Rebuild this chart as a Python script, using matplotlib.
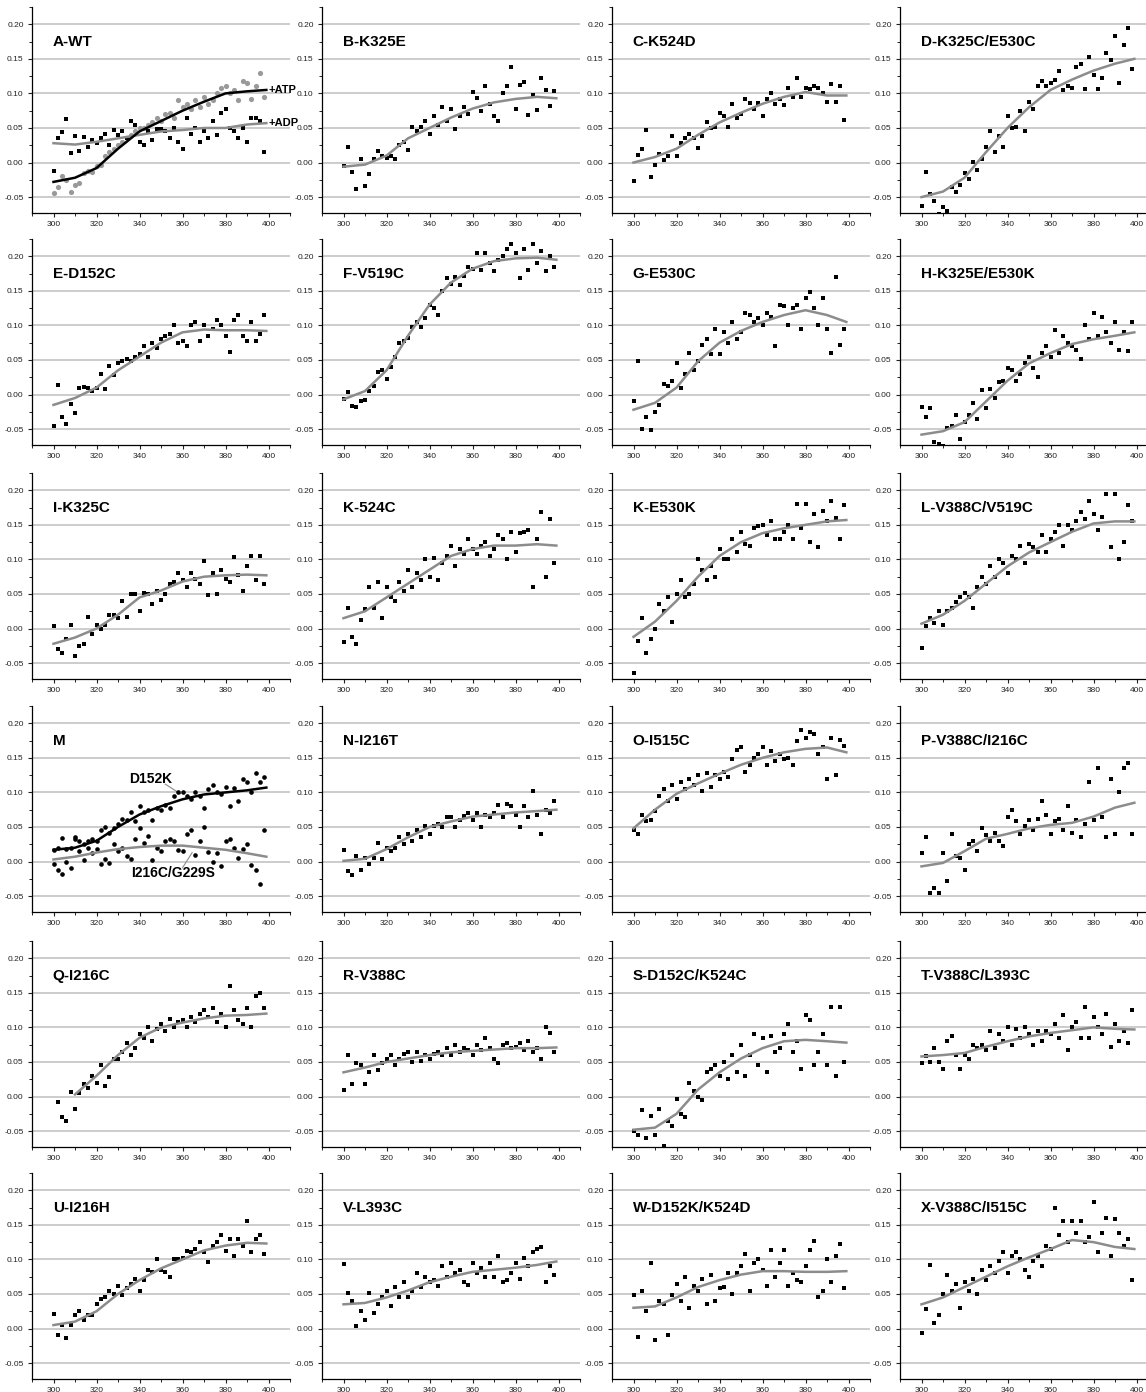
import numpy as np
import matplotlib
matplotlib.use("Agg")
import matplotlib.pyplot as plt
from matplotlib.ticker import MultipleLocator, FormatStrFormatter

# wavelength grid of the scatter points and of the smoothed curves
wl = np.arange(300, 400, 2)
wl_fit = [300, 310, 320, 330, 340, 350, 360, 370, 380, 390, 399]

# ---- A-WT
wt_atp = [-0.044, -0.035, -0.02, -0.025, -0.043, -0.033, -0.03, -0.015, -0.012, -0.014,
          -0.005, -0.003, 0.01, 0.015, 0.02, 0.025, 0.03, 0.035, 0.04, 0.045,
          0.05, 0.05, 0.055, 0.058, 0.065, 0.06, 0.07, 0.072, 0.065, 0.09,
          0.08, 0.085, 0.078, 0.09, 0.08, 0.095, 0.085, 0.09, 0.1, 0.108,
          0.11, 0.1, 0.105, 0.09, 0.118, 0.115, 0.092, 0.11, 0.13, 0.095]
wt_atp_fit = [-0.028, -0.022, -0.008, 0.02, 0.045, 0.06, 0.075, 0.088, 0.1, 0.103, 0.105]
wt_adp = [-0.012, 0.036, 0.044, 0.063, 0.014, 0.039, 0.016, 0.037, 0.022, 0.032,
          0.028, 0.036, 0.042, 0.025, 0.047, 0.04, 0.046, 0.035, 0.06, 0.055,
          0.03, 0.025, 0.045, 0.032, 0.048, 0.048, 0.045, 0.035, 0.05, 0.03,
          0.02, 0.065, 0.042, 0.05, 0.03, 0.045, 0.035, 0.06, 0.04, 0.072,
          0.078, 0.05, 0.045, 0.035, 0.05, 0.03, 0.065, 0.065, 0.06, 0.015]
wt_adp_fit = [0.028, 0.026, 0.03, 0.035, 0.04, 0.045, 0.047, 0.05, 0.05, 0.055, 0.057]

# ---- M
m_d152k = [0.017, 0.02, 0.034, 0.018, 0.02, 0.035, 0.03, 0.025, 0.03, 0.032,
           0.03, 0.045, 0.05, 0.042, 0.048, 0.055, 0.062, 0.06, 0.072, 0.058,
           0.08, 0.072, 0.075, 0.06, 0.078, 0.075, 0.082, 0.078, 0.095, 0.1,
           0.1, 0.095, 0.09, 0.1, 0.095, 0.078, 0.105, 0.11, 0.1, 0.098,
           0.108, 0.08, 0.106, 0.088, 0.12, 0.115, 0.1, 0.128, 0.115, 0.122]
m_d152k_fit = [0.017, 0.02, 0.03, 0.05, 0.068, 0.08, 0.09, 0.097, 0.1, 0.103, 0.107]
m_i216c = [-0.004, -0.012, -0.018, 0.0, -0.01, 0.033, 0.015, 0.002, 0.02, 0.013,
           0.018, -0.004, 0.004, -0.002, 0.025, 0.015, 0.02, 0.008, 0.003, 0.033,
           0.048, 0.027, 0.037, 0.002, 0.02, 0.015, 0.03, 0.032, 0.03, 0.016,
           0.015, 0.04, 0.045, 0.01, 0.03, 0.05, 0.014, 0.0, 0.012, -0.006,
           0.03, 0.033, 0.02, 0.005, 0.018, 0.025, -0.005, -0.012, -0.032, 0.045]
m_i216c_fit = [0.003, 0.007, 0.013, 0.018, 0.021, 0.023, 0.023, 0.02, 0.017, 0.012, 0.007]

# ---- single-series panels: points and smoothed curve
points = {
    "B-K325E": [-0.005, 0.022, -0.014, -0.038, 0.005, -0.034, -0.016, 0.005, 0.017, 0.01,
                0.006, 0.01, 0.005, 0.025, 0.03, 0.018, 0.052, 0.045, 0.052, 0.06,
                0.042, 0.068, 0.055, 0.08, 0.06, 0.078, 0.048, 0.068, 0.08, 0.07,
                0.102, 0.093, 0.075, 0.11, 0.085, 0.068, 0.06, 0.1, 0.11, 0.138,
                0.078, 0.112, 0.116, 0.069, 0.097, 0.076, 0.122, 0.105, 0.082, 0.103],
    "C-K524D": [-0.026, 0.011, 0.019, 0.047, -0.021, -0.003, 0.013, 0.003, 0.01, 0.039,
                0.009, 0.028, 0.036, 0.041, 0.035, 0.021, 0.038, 0.059, 0.05, 0.052,
                0.072, 0.068, 0.052, 0.085, 0.065, 0.07, 0.092, 0.086, 0.078, 0.086,
                0.068, 0.092, 0.1, 0.085, 0.092, 0.083, 0.108, 0.095, 0.122, 0.095,
                0.108, 0.106, 0.11, 0.108, 0.1, 0.087, 0.113, 0.088, 0.11, 0.062],
    "D-K325C/E530C": [-0.063, -0.013, -0.045, -0.056, -0.075, -0.065, -0.07, -0.035, -0.043, -0.032,
                      -0.015, -0.024, 0.001, -0.011, 0.005, 0.022, 0.046, 0.015, 0.038, 0.022,
                      0.068, 0.05, 0.052, 0.075, 0.046, 0.088, 0.078, 0.11, 0.118, 0.11,
                      0.115, 0.12, 0.133, 0.105, 0.11, 0.108, 0.138, 0.143, 0.107, 0.152,
                      0.127, 0.106, 0.122, 0.158, 0.148, 0.183, 0.115, 0.17, 0.195, 0.135],
    "E-D152C": [-0.046, 0.014, -0.033, -0.042, -0.014, -0.027, 0.01, 0.011, 0.01, 0.005,
                0.01, 0.03, 0.008, 0.042, 0.028, 0.045, 0.048, 0.052, 0.048, 0.055,
                0.058, 0.07, 0.055, 0.075, 0.068, 0.08, 0.085, 0.088, 0.1, 0.075,
                0.078, 0.07, 0.1, 0.105, 0.078, 0.1, 0.085, 0.095, 0.108, 0.1,
                0.085, 0.062, 0.108, 0.115, 0.085, 0.078, 0.105, 0.078, 0.088, 0.115],
    "F-V519C": [-0.006, 0.003, -0.016, -0.018, -0.01, -0.008, 0.005, 0.012, 0.032, 0.035,
                0.022, 0.04, 0.055, 0.075, 0.078, 0.082, 0.098, 0.105, 0.098, 0.11,
                0.13, 0.125, 0.115, 0.15, 0.168, 0.16, 0.17, 0.158, 0.172, 0.185,
                0.182, 0.205, 0.18, 0.205, 0.19, 0.178, 0.195, 0.2, 0.21, 0.218,
                0.205, 0.168, 0.21, 0.18, 0.218, 0.19, 0.208, 0.178, 0.2, 0.185],
    "G-E530C": [-0.01, 0.048, -0.05, -0.032, -0.052, -0.025, -0.015, 0.015, 0.013, 0.02,
                0.045, 0.01, 0.03, 0.06, 0.036, 0.048, 0.072, 0.08, 0.058, 0.095,
                0.058, 0.09, 0.075, 0.105, 0.08, 0.09, 0.118, 0.115, 0.105, 0.11,
                0.1, 0.118, 0.112, 0.07, 0.13, 0.128, 0.1, 0.125, 0.13, 0.095,
                0.14, 0.148, 0.125, 0.1, 0.14, 0.095, 0.06, 0.17, 0.072, 0.095],
    "H-K325E/E530K": [-0.018, -0.032, -0.02, -0.068, -0.072, -0.075, -0.048, -0.045, -0.03, -0.065,
                      -0.04, -0.03, -0.012, -0.035, 0.006, -0.02, 0.008, -0.005, 0.018, 0.02,
                      0.038, 0.035, 0.02, 0.03, 0.045, 0.055, 0.038, 0.025, 0.06, 0.07,
                      0.055, 0.093, 0.06, 0.085, 0.075, 0.07, 0.065, 0.052, 0.1, 0.08,
                      0.118, 0.085, 0.112, 0.09, 0.075, 0.105, 0.065, 0.09, 0.063, 0.105],
    "I-K325C": [0.003, -0.03, -0.035, -0.015, 0.005, -0.04, -0.025, -0.022, 0.016, -0.008,
                0.005, 0.0, 0.005, 0.02, 0.02, 0.015, 0.04, 0.017, 0.05, 0.05,
                0.025, 0.052, 0.05, 0.035, 0.055, 0.042, 0.05, 0.065, 0.068, 0.08,
                0.07, 0.06, 0.08, 0.072, 0.065, 0.098, 0.048, 0.08, 0.05, 0.085,
                0.072, 0.068, 0.103, 0.077, 0.055, 0.09, 0.105, 0.07, 0.105, 0.065],
    "K-524C": [-0.02, 0.03, -0.012, -0.022, 0.012, 0.028, 0.06, 0.03, 0.068, 0.015,
               0.06, 0.045, 0.04, 0.068, 0.055, 0.085, 0.06, 0.08, 0.07, 0.1,
               0.075, 0.102, 0.07, 0.095, 0.105, 0.12, 0.09, 0.115, 0.108, 0.13,
               0.115, 0.108, 0.12, 0.125, 0.105, 0.115, 0.135, 0.13, 0.1, 0.14,
               0.11, 0.138, 0.14, 0.143, 0.06, 0.13, 0.168, 0.075, 0.158, 0.095],
    "K-E530K": [-0.065, -0.018, 0.015, -0.035, -0.015, 0.0, 0.035, 0.025, 0.045, 0.01,
                0.05, 0.07, 0.045, 0.05, 0.065, 0.1, 0.085, 0.07, 0.09, 0.075,
                0.115, 0.1, 0.1, 0.13, 0.11, 0.14, 0.122, 0.12, 0.145, 0.148,
                0.15, 0.135, 0.155, 0.13, 0.13, 0.14, 0.15, 0.13, 0.18, 0.145,
                0.18, 0.125, 0.165, 0.118, 0.17, 0.155, 0.185, 0.16, 0.13, 0.178],
    "L-V388C/V519C": [-0.028, 0.003, 0.015, 0.008, 0.025, 0.005, 0.025, 0.03, 0.038, 0.045,
                      0.052, 0.045, 0.03, 0.06, 0.075, 0.065, 0.09, 0.075, 0.1, 0.095,
                      0.08, 0.105, 0.1, 0.12, 0.095, 0.122, 0.118, 0.11, 0.135, 0.11,
                      0.13, 0.14, 0.15, 0.12, 0.15, 0.142, 0.155, 0.168, 0.158, 0.185,
                      0.165, 0.142, 0.162, 0.195, 0.118, 0.195, 0.1, 0.125, 0.178, 0.155],
    "N-I216T": [0.017, -0.014, -0.019, 0.008, -0.012, 0.005, -0.004, 0.005, 0.027, 0.003,
                0.02, 0.015, 0.02, 0.036, 0.025, 0.04, 0.03, 0.045, 0.035, 0.052,
                0.04, 0.052, 0.055, 0.05, 0.065, 0.065, 0.05, 0.06, 0.066, 0.07,
                0.06, 0.07, 0.05, 0.068, 0.065, 0.07, 0.082, 0.065, 0.083, 0.08,
                0.068, 0.05, 0.08, 0.065, 0.102, 0.068, 0.04, 0.075, 0.07, 0.087],
    "O-I515C": [0.045, 0.04, 0.068, 0.058, 0.06, 0.073, 0.095, 0.105, 0.088, 0.11,
                0.09, 0.115, 0.105, 0.12, 0.11, 0.125, 0.102, 0.128, 0.108, 0.125,
                0.12, 0.13, 0.122, 0.148, 0.162, 0.165, 0.13, 0.14, 0.15, 0.155,
                0.165, 0.14, 0.16, 0.145, 0.155, 0.148, 0.15, 0.14, 0.175, 0.19,
                0.178, 0.188, 0.185, 0.155, 0.165, 0.12, 0.178, 0.125, 0.176, 0.167],
    "P-V388C/I216C": [0.013, 0.035, -0.045, -0.038, -0.045, 0.013, -0.028, 0.04, 0.008, 0.005,
                      -0.012, 0.025, 0.03, 0.015, 0.048, 0.038, 0.03, 0.042, 0.03, 0.022,
                      0.065, 0.075, 0.058, 0.04, 0.052, 0.06, 0.045, 0.062, 0.087, 0.068,
                      0.04, 0.058, 0.062, 0.045, 0.08, 0.042, 0.06, 0.035, 0.055, 0.115,
                      0.06, 0.135, 0.065, 0.035, 0.12, 0.04, 0.1, 0.135, 0.142, 0.04],
    "Q-I216C": [np.nan, -0.008, -0.03, -0.036, 0.006, -0.018, 0.005, 0.018, 0.012, 0.03,
                0.02, 0.045, 0.015, 0.028, 0.055, 0.055, 0.065, 0.078, 0.06, 0.07,
                0.09, 0.085, 0.1, 0.08, 0.098, 0.105, 0.095, 0.112, 0.1, 0.108,
                0.11, 0.1, 0.115, 0.108, 0.12, 0.125, 0.115, 0.128, 0.108, 0.12,
                0.1, 0.16, 0.125, 0.11, 0.105, 0.128, 0.1, 0.145, 0.15, 0.128],
    "R-V388C": [0.01, 0.06, 0.018, 0.048, 0.045, 0.018, 0.035, 0.06, 0.038, 0.048,
                0.055, 0.06, 0.045, 0.055, 0.062, 0.065, 0.05, 0.065, 0.052, 0.06,
                0.055, 0.062, 0.065, 0.06, 0.07, 0.06, 0.075, 0.065, 0.07, 0.068,
                0.06, 0.075, 0.068, 0.085, 0.07, 0.055, 0.048, 0.075, 0.078, 0.07,
                0.072, 0.078, 0.068, 0.08, 0.065, 0.07, 0.055, 0.1, 0.092, 0.065],
    "S-D152C/K524C": [-0.05, -0.055, -0.02, -0.06, -0.028, -0.055, -0.018, -0.072, -0.035, -0.042,
                      -0.003, -0.025, -0.03, 0.02, 0.008, 0.0, -0.005, 0.035, 0.04, 0.045,
                      0.03, 0.05, 0.025, 0.06, 0.035, 0.075, 0.03, 0.06, 0.09, 0.045,
                      0.085, 0.035, 0.088, 0.065, 0.07, 0.09, 0.105, 0.065, 0.08, 0.04,
                      0.118, 0.11, 0.045, 0.065, 0.09, 0.045, 0.13, 0.03, 0.13, 0.05],
    "T-V388C/L393C": [0.048, 0.058, 0.05, 0.07, 0.05, 0.04, 0.08, 0.088, 0.06, 0.04,
                      0.06, 0.055, 0.075, 0.07, 0.075, 0.068, 0.095, 0.07, 0.09, 0.08,
                      0.1, 0.075, 0.098, 0.085, 0.1, 0.09, 0.075, 0.095, 0.08, 0.095,
                      0.09, 0.105, 0.085, 0.118, 0.068, 0.1, 0.108, 0.085, 0.13, 0.085,
                      0.115, 0.1, 0.09, 0.12, 0.072, 0.105, 0.08, 0.095, 0.078, 0.125],
    "U-I216H": [0.021, -0.01, 0.005, -0.013, 0.005, 0.019, 0.025, 0.013, 0.02, 0.02,
                0.035, 0.043, 0.045, 0.055, 0.05, 0.062, 0.048, 0.058, 0.065, 0.072,
                0.054, 0.07, 0.085, 0.082, 0.1, 0.085, 0.082, 0.075, 0.1, 0.1,
                0.102, 0.112, 0.11, 0.115, 0.125, 0.11, 0.096, 0.12, 0.125, 0.135,
                0.112, 0.13, 0.105, 0.13, 0.12, 0.156, 0.11, 0.13, 0.135, 0.108],
    "V-L393C": [0.093, 0.052, 0.04, 0.003, 0.025, 0.012, 0.052, 0.022, 0.035, 0.045,
                0.055, 0.032, 0.06, 0.045, 0.068, 0.045, 0.055, 0.08, 0.06, 0.075,
                0.068, 0.07, 0.062, 0.09, 0.075, 0.095, 0.08, 0.085, 0.068, 0.063,
                0.095, 0.08, 0.088, 0.075, 0.095, 0.075, 0.105, 0.068, 0.07, 0.08,
                0.095, 0.072, 0.102, 0.09, 0.11, 0.115, 0.118, 0.068, 0.09, 0.078],
    "W-D152K/K524D": [0.048, -0.012, 0.054, 0.025, 0.095, -0.016, 0.04, 0.035, -0.01, 0.048,
                      0.065, 0.04, 0.075, 0.03, 0.062, 0.055, 0.072, 0.035, 0.078, 0.04,
                      0.058, 0.06, 0.08, 0.05, 0.08, 0.09, 0.108, 0.055, 0.095, 0.1,
                      0.085, 0.062, 0.113, 0.075, 0.095, 0.113, 0.062, 0.08, 0.07, 0.068,
                      0.09, 0.113, 0.127, 0.045, 0.055, 0.1, 0.068, 0.105, 0.122, 0.058],
    "X-V388C/I515C": [-0.006, 0.028, 0.092, 0.008, 0.02, 0.05, 0.078, 0.055, 0.065, 0.03,
                      0.068, 0.055, 0.072, 0.05, 0.085, 0.07, 0.09, 0.08, 0.098, 0.11,
                      0.08, 0.105, 0.11, 0.1, 0.085, 0.075, 0.098, 0.105, 0.09, 0.12,
                      0.115, 0.175, 0.135, 0.155, 0.125, 0.155, 0.138, 0.155, 0.125, 0.133,
                      0.183, 0.11, 0.138, 0.16, 0.105, 0.158, 0.138, 0.12, 0.13, 0.07],
}

curves = {
    "B-K325E": [-0.006, -0.003, 0.01, 0.035, 0.05, 0.065, 0.078, 0.087, 0.092, 0.095, 0.093],
    "C-K524D": [0.0, 0.008, 0.02, 0.04, 0.058, 0.072, 0.085, 0.095, 0.102, 0.097, 0.097],
    "D-K325C/E530C": [-0.05, -0.042, -0.022, 0.015, 0.05, 0.08, 0.105, 0.12, 0.133, 0.143, 0.15],
    "E-D152C": [-0.015, -0.005, 0.01, 0.035, 0.055, 0.075, 0.09, 0.094, 0.093, 0.093, 0.092],
    "F-V519C": [-0.007, 0.005, 0.035, 0.085, 0.13, 0.162, 0.182, 0.193, 0.197, 0.198, 0.195],
    "G-E530C": [-0.022, -0.012, 0.01, 0.048, 0.075, 0.092, 0.105, 0.115, 0.122, 0.115, 0.105],
    "H-K325E/E530K": [-0.058, -0.053, -0.04, -0.01, 0.02, 0.045, 0.06, 0.073, 0.08, 0.085, 0.09],
    "I-K325C": [-0.022, -0.013, 0.0, 0.02, 0.045, 0.055, 0.068, 0.075, 0.077, 0.078, 0.077],
    "K-524C": [0.015, 0.025, 0.045, 0.065, 0.085, 0.105, 0.115, 0.12, 0.12, 0.122, 0.12],
    "K-E530K": [-0.012, 0.01, 0.04, 0.075, 0.105, 0.125, 0.138, 0.145, 0.15, 0.155, 0.157],
    "L-V388C/V519C": [0.007, 0.02, 0.04, 0.065, 0.09, 0.11, 0.125, 0.14, 0.152, 0.155, 0.155],
    "N-I216T": [0.001, 0.004, 0.018, 0.035, 0.05, 0.058, 0.065, 0.068, 0.071, 0.073, 0.075],
    "O-I515C": [0.048, 0.075, 0.098, 0.113, 0.127, 0.14, 0.15, 0.158, 0.163, 0.165, 0.158],
    "P-V388C/I216C": [-0.007, -0.002, 0.015, 0.033, 0.04, 0.048, 0.053, 0.056, 0.065, 0.078, 0.085],
    "Q-I216C": [np.nan, 0.003, 0.03, 0.06, 0.085, 0.1, 0.107, 0.113, 0.117, 0.118, 0.12],
    "R-V388C": [0.035, 0.042, 0.05, 0.055, 0.06, 0.064, 0.066, 0.068, 0.07, 0.07, 0.071],
    "S-D152C/K524C": [-0.048, -0.045, -0.025, 0.01, 0.035, 0.055, 0.07, 0.08, 0.082, 0.08, 0.078],
    "T-V388C/L393C": [0.058, 0.06, 0.063, 0.072, 0.08, 0.087, 0.092, 0.096, 0.1, 0.098, 0.097],
    "U-I216H": [0.005, 0.01, 0.025, 0.05, 0.07, 0.087, 0.1, 0.113, 0.12, 0.124, 0.123],
    "V-L393C": [0.035, 0.037, 0.045, 0.055, 0.067, 0.075, 0.082, 0.085, 0.088, 0.092, 0.097],
    "W-D152K/K524D": [0.03, 0.032, 0.045, 0.06, 0.07, 0.078, 0.083, 0.083, 0.082, 0.082, 0.083],
    "X-V388C/I515C": [0.035, 0.045, 0.06, 0.075, 0.09, 0.103, 0.115, 0.128, 0.125, 0.118, 0.115],
}

# grid order of the 24 panels
layout = ["A-WT", "B-K325E", "C-K524D", "D-K325C/E530C",
          "E-D152C", "F-V519C", "G-E530C", "H-K325E/E530K",
          "I-K325C", "K-524C", "K-E530K", "L-V388C/V519C",
          "M", "N-I216T", "O-I515C", "P-V388C/I216C",
          "Q-I216C", "R-V388C", "S-D152C/K524C", "T-V388C/L393C",
          "U-I216H", "V-L393C", "W-D152K/K524D", "X-V388C/I515C"]

plt.rcParams['font.family'] = ['Liberation Sans Narrow', 'Liberation Sans', 'DejaVu Sans']

W, H = 1146, 1392
fig = plt.figure(figsize=(W / 100, H / 100), dpi=100)

lefts = [32, 322, 612, 900]
bottoms = [213, 445, 679, 912, 1147, 1379]
aw, ah = 258, 206

GRAY = '#8c8c8c'


def style(ax):
    ax.set_xlim(290, 410)
    ax.set_ylim(-0.073, 0.225)
    for s in ['top', 'right']:
        ax.spines[s].set_visible(False)
    for s in ['left', 'bottom']:
        ax.spines[s].set_linewidth(0.9)
    ax.xaxis.set_major_locator(MultipleLocator(20))
    ax.xaxis.set_minor_locator(MultipleLocator(10))
    ax.yaxis.set_major_locator(MultipleLocator(0.05))
    ax.yaxis.set_minor_locator(MultipleLocator(0.025))
    ax.yaxis.set_major_formatter(FormatStrFormatter('%.2f'))
    ax.tick_params(which='major', direction='out', length=3, width=0.8,
                   labelsize=6, colors='#222222', pad=3)
    ax.tick_params(which='minor', direction='out', length=2, width=0.6)
    ax.grid(axis='y', which='major', color='#c4c4c4', lw=1.2)
    ax.set_axisbelow(True)


for k, name in enumerate(layout):
    r, c = divmod(k, 4)
    ax = fig.add_axes([lefts[c] / W, 1 - bottoms[r] / H, aw / W, ah / H])
    style(ax)
    if name == "A-WT":
        ax.scatter(wl, wt_atp, s=14, marker='o', color='#999999', lw=0, zorder=3)
        ax.scatter(wl, wt_adp, s=9, marker='s', color='black', lw=0, zorder=3)
        ax.plot(wl_fit, wt_adp_fit, color=GRAY, lw=1.8, zorder=4)
        ax.plot(wl_fit, wt_atp_fit, color='black', lw=1.8, zorder=4)
        ax.text(400, wt_atp_fit[-1], '+ATP', fontsize=8, fontweight='bold',
                ha='left', va='center')
        ax.text(400, wt_adp_fit[-1], '+ADP', fontsize=8, fontweight='bold',
                ha='left', va='center')
    elif name == "M":
        ax.scatter(wl, m_d152k, s=11, marker='o', color='black', lw=0, zorder=3)
        ax.scatter(wl, m_i216c, s=11, marker='o', color='black', lw=0, zorder=3)
        ax.plot(wl_fit, m_d152k_fit, color='black', lw=1.8, zorder=4)
        ax.plot(wl_fit, m_i216c_fit, color=GRAY, lw=1.8, zorder=4)
        ax.text(335, 0.12, 'D152K', fontsize=10, fontweight='bold', ha='left', va='center')
        ax.plot([352, 359], [0.112, 0.098], color=GRAY, lw=0.8)
        ax.text(336, -0.017, 'I216C/G229S', fontsize=10, fontweight='bold',
                ha='left', va='center')
        ax.plot([360, 364.5], [-0.009, 0.013], color=GRAY, lw=0.8)
    else:
        ax.scatter(wl, points[name], s=9, marker='s', color='black', lw=0, zorder=3)
        ax.plot(wl_fit, curves[name], color=GRAY, lw=1.8, zorder=4)
    ax.text(0.08, 0.83, name, transform=ax.transAxes, fontsize=11,
            fontweight='bold', ha='left', va='center')

fig.savefig('out.png', dpi=100)
